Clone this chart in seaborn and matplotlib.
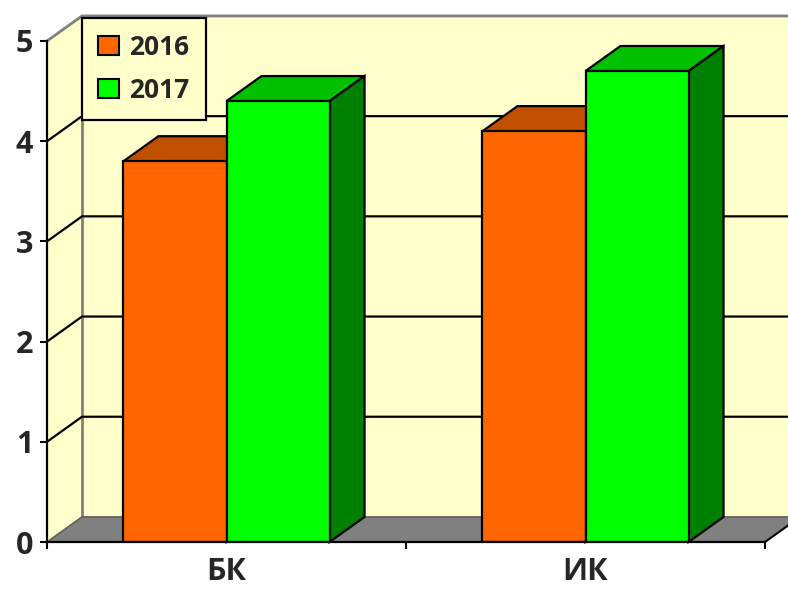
# -------------------------------
# Setup & Imports
# -------------------------------
import pandas as pd
import matplotlib
matplotlib.use("Agg")
import matplotlib.pyplot as plt
from matplotlib.patches import Polygon, Patch
import seaborn as sns

# -------------------------------
# Data
# -------------------------------
categories = ["БК", "ИК"]
years = ["2016", "2017"]
values_2016 = [3.8, 4.1]
values_2017 = [4.4, 4.7]
y_ticks = [0, 1, 2, 3, 4, 5]

df = pd.DataFrame({
    "cat": categories * 2,
    "year": [years[0]] * 2 + [years[1]] * 2,
    "value": values_2016 + values_2017,
})

# colours: front, top, side
front_cols = ["#FF6600", "#00FF00"]
top_cols = ["#C05000", "#00C000"]
side_cols = ["#803300", "#008000"]
wall_col = "#FFFFCC"
floor_col = "#808080"

# depth of the fake 3D effect in data units
DX = 0.0975
DY = 0.25
XMIN, XMAX = -0.5, 1.5
YMAX = 5

# -------------------------------
# Figure
# -------------------------------
sns.set_style("white")
plt.rcParams["font.family"] = ["Open Sans", "DejaVu Sans"]
plt.rcParams["font.weight"] = "bold"

fig = plt.figure(figsize=(7.88, 5.99), dpi=100)
ax = fig.add_axes([47 / 788, 57 / 599, 718 / 788, 501 / 599])
ax.set_facecolor("none")

sns.barplot(data=df, x="cat", y="value", hue="year", palette=front_cols,
            width=0.574, saturation=1, edgecolor="black", linewidth=1.6,
            legend=False, ax=ax)

ax.set_xlim(XMIN, XMAX)
ax.set_ylim(0, YMAX)

# -------------------------------
# Walls, floor and grid
# -------------------------------
left_wall = Polygon([(XMIN, 0), (XMIN + DX, DY), (XMIN + DX, YMAX + DY), (XMIN, YMAX)],
                    closed=True, facecolor=wall_col, edgecolor="none", zorder=0.5, clip_on=False)
back_wall = Polygon([(XMIN + DX, DY), (XMAX + DX, DY), (XMAX + DX, YMAX + DY), (XMIN + DX, YMAX + DY)],
                    closed=True, facecolor=wall_col, edgecolor="none", zorder=0.5, clip_on=False)
floor = Polygon([(XMIN, 0), (XMAX, 0), (XMAX + DX, DY), (XMIN + DX, DY)],
                closed=True, facecolor=floor_col, edgecolor="none", zorder=0.6, clip_on=False)
for p in [left_wall, back_wall, floor]:
    ax.add_patch(p)

# grey outline of the walls
ax.plot([XMIN, XMIN + DX, XMAX + DX], [YMAX, YMAX + DY, YMAX + DY],
        color="#808080", lw=2, zorder=0.8, clip_on=False)
ax.plot([XMIN + DX, XMIN + DX], [DY, YMAX + DY], color="#808080", lw=2, zorder=0.8, clip_on=False)
ax.plot([XMIN, XMIN + DX, XMAX + DX], [0, DY, DY], color="#606060", lw=1.2, zorder=0.8, clip_on=False)
ax.plot([XMAX, XMAX + DX], [0, DY], color="black", lw=1.5, zorder=0.8, clip_on=False)

# grid lines on side and back wall
for k in y_ticks[1:-1]:
    ax.plot([XMIN, XMIN + DX, XMAX + DX], [k, k + DY, k + DY],
            color="black", lw=1.6, zorder=0.9, clip_on=False)

# -------------------------------
# 3D tops and sides of bars
# -------------------------------
for i, cont in enumerate(ax.containers):
    for rect in cont:
        x0, w, h = rect.get_x(), rect.get_width(), rect.get_height()
        top = Polygon([(x0, h), (x0 + w, h), (x0 + w + DX, h + DY), (x0 + DX, h + DY)],
                      closed=True, facecolor=top_cols[i], edgecolor="black", lw=1.6,
                      joinstyle="miter", zorder=3 + 2 * i, clip_on=False)
        side = Polygon([(x0 + w, 0), (x0 + w + DX, DY), (x0 + w + DX, h + DY), (x0 + w, h)],
                       closed=True, facecolor=side_cols[i], edgecolor="black", lw=1.6,
                       joinstyle="miter", zorder=3 + 2 * i, clip_on=False)
        ax.add_patch(top)
        ax.add_patch(side)
        rect.set_zorder(4 + 2 * i)
        rect.set_joinstyle("miter")

# -------------------------------
# Axes styling
# -------------------------------
for s in ["top", "right"]:
    ax.spines[s].set_visible(False)
for s in ["left", "bottom"]:
    ax.spines[s].set_color("black")
    ax.spines[s].set_linewidth(1.6)
    ax.spines[s].set_zorder(10)

ax.set_yticks(y_ticks)
ax.set_yticklabels([str(t) for t in y_ticks])
ax.tick_params(axis="y", length=5, width=1.5, color="black", pad=5,
               labelsize=22, left=True)
ax.set_xticks([0, 1])
ax.set_xticklabels(categories)
ax.set_xticks([XMIN, 0.5, XMAX], minor=True)
ax.tick_params(axis="x", which="major", length=0, pad=11, labelsize=22)
ax.tick_params(axis="x", which="minor", length=5, width=1.5, color="black", bottom=True)
for lbl in ax.get_xticklabels() + ax.get_yticklabels():
    lbl.set_fontweight("bold")
ax.set_xlabel("")
ax.set_ylabel("")

# -------------------------------
# Legend
# -------------------------------
handles = [Patch(facecolor=c, edgecolor="black", linewidth=1.5) for c in front_cols]
leg = ax.legend(handles, years, loc="upper left",
                bbox_to_anchor=(82 / 788, 1 - 18 / 599), bbox_transform=fig.transFigure,
                borderaxespad=0, fancybox=False, framealpha=1, facecolor=wall_col,
                edgecolor="black", handlelength=0.8, handleheight=0.75,
                handletextpad=0.4, labelspacing=0.6, borderpad=0.6,
                prop={"size": 19, "weight": "bold"})
leg.get_frame().set_linewidth(1.6)
leg.set_zorder(20)

fig.savefig("out.png", dpi=100)
